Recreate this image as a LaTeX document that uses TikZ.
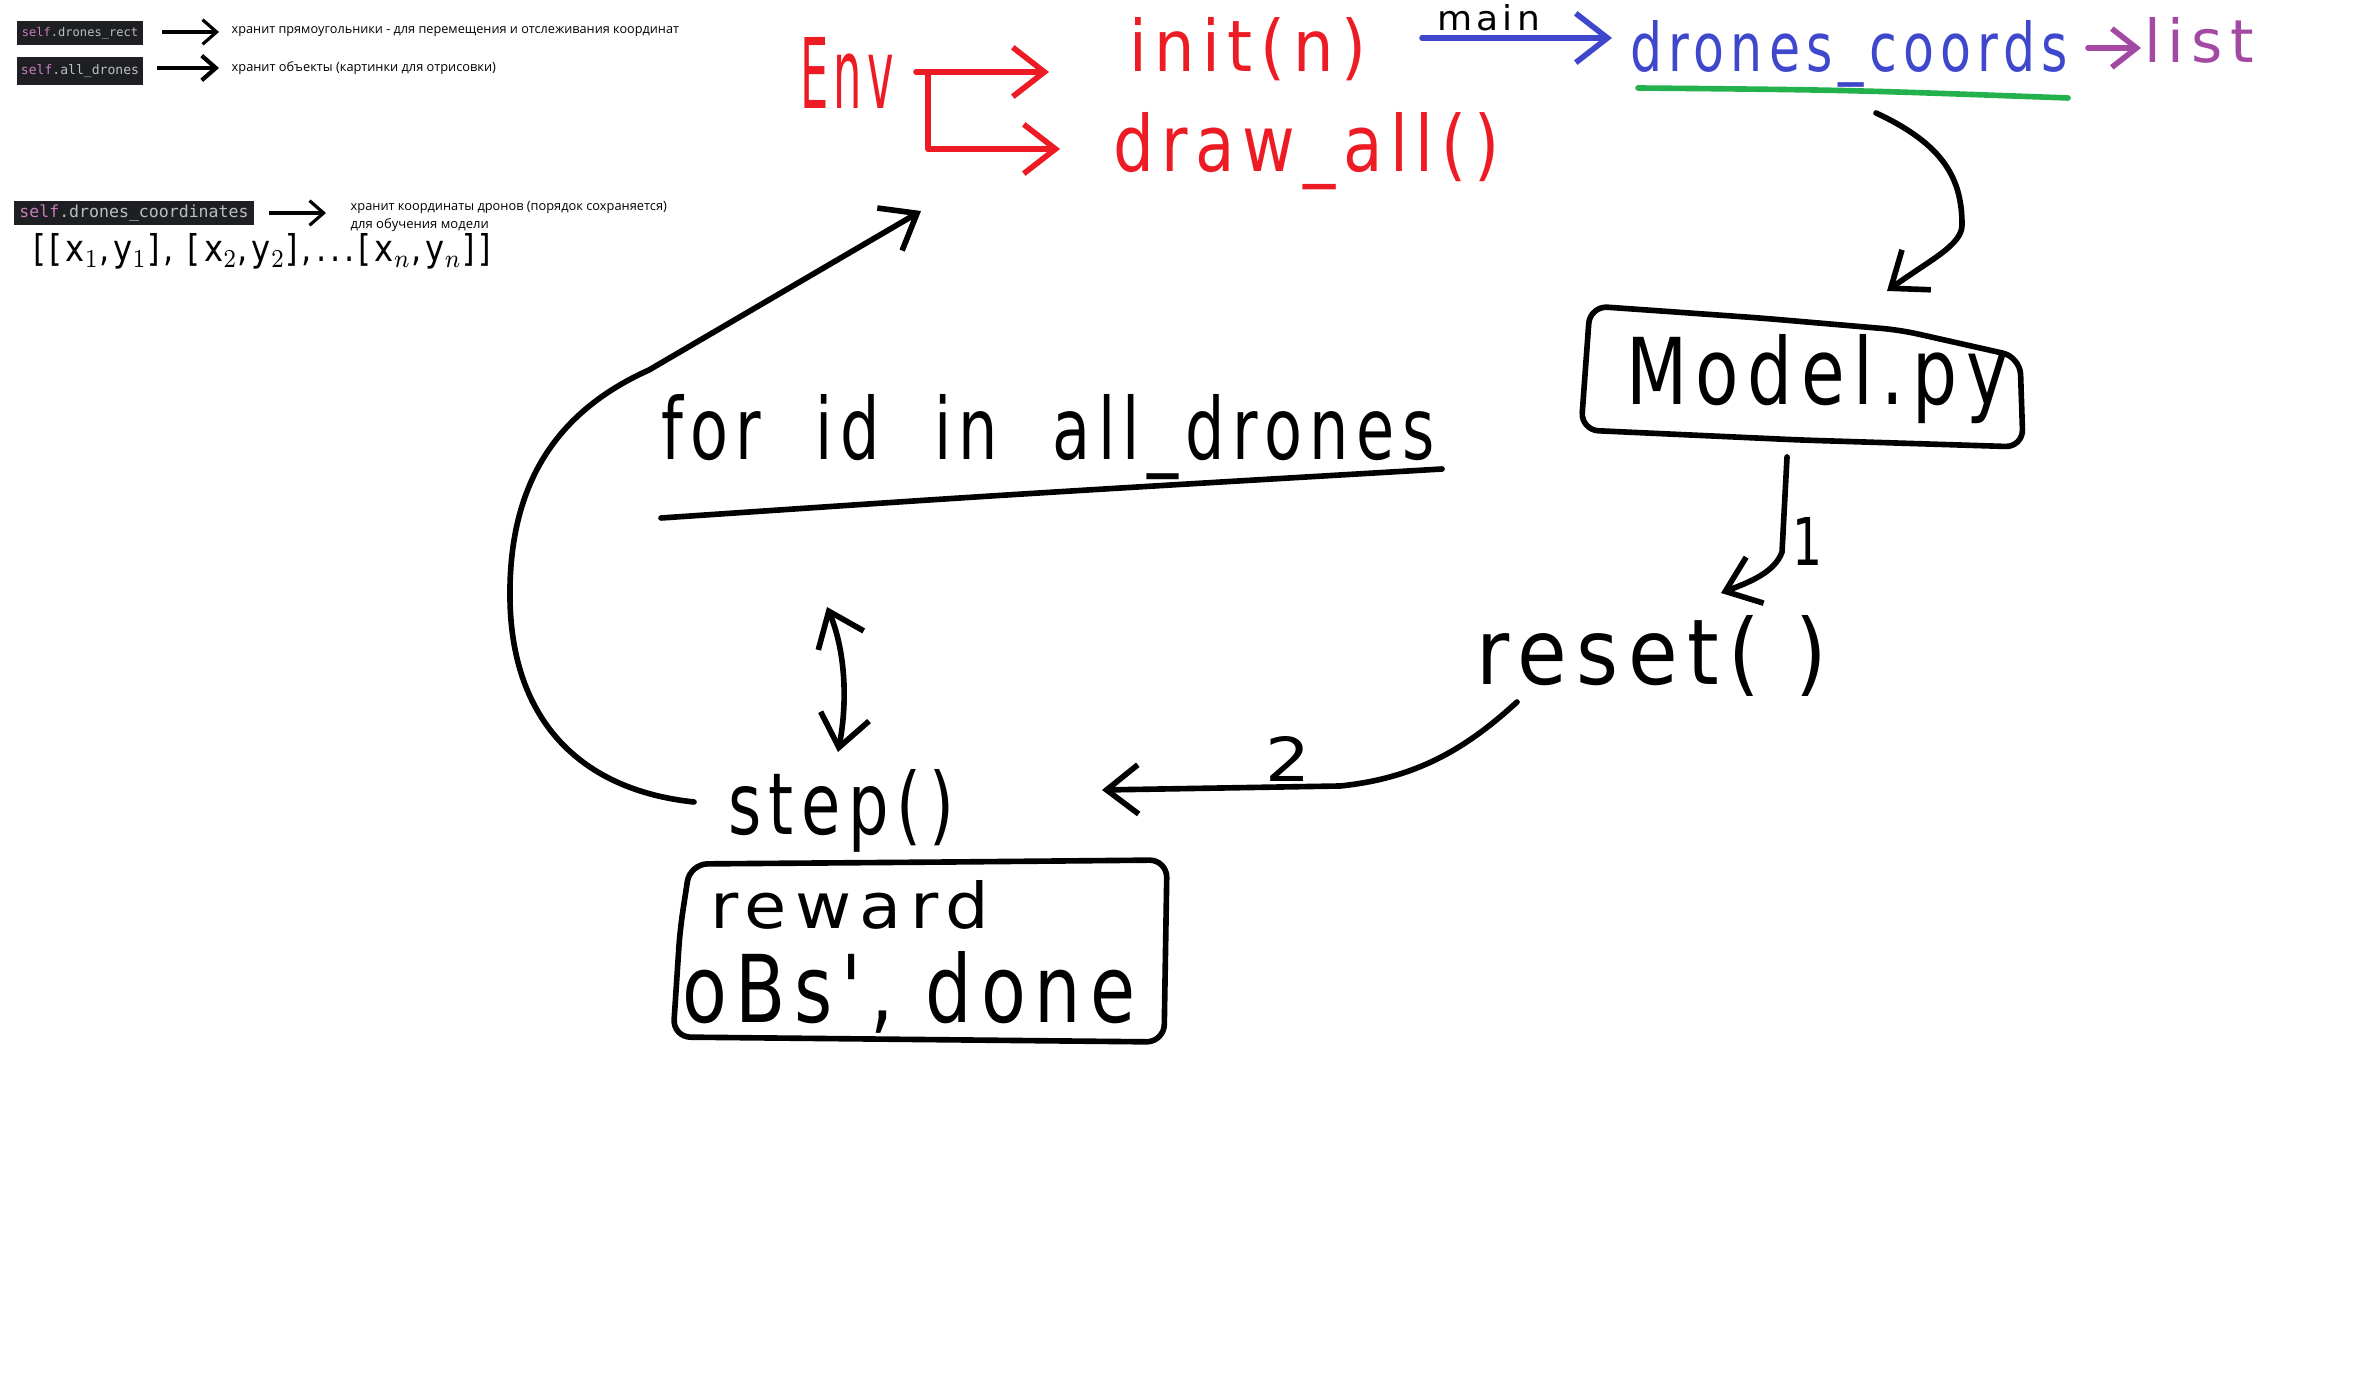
\documentclass[tikz,border=0pt]{standalone}
\usepackage{fontspec}
\setmainfont{Open Sans}
\newfontfamily\handf[LetterSpace=12]{DejaVu Sans}
\newfontfamily\codef{DejaVu Sans Mono}
\usetikzlibrary{arrows.meta}
\definecolor{pred}{HTML}{ED1C24}
\definecolor{pblue}{HTML}{3F48CC}
\definecolor{pgreen}{HTML}{22B14C}
\definecolor{ppurple}{HTML}{A349A4}
\definecolor{codebg}{HTML}{1E1F22}
\definecolor{cself}{HTML}{C77DBB}
\definecolor{ctext}{HTML}{BCBEC4}
\newcommand{\hwt}[3]{\resizebox{#1}{#2}{\handf #3}}
\tikzset{
  hw/.style={anchor=base west, inner sep=0pt, outer sep=0pt},
  pen/.style={line width=1.6pt, line cap=round, line join=round},
  barb/.style={-{Straight Barb[length=9pt,width=14pt,line width=1.6pt]}},
  legarrow/.style={line width=0.9pt, -{Straight Barb[length=4pt,width=7pt]}},
  legtext/.style={anchor=west, inner sep=0pt},
  codebox/.style={fill=codebg, inner sep=0pt}
}
\begin{document}
\begin{tikzpicture}[x=0.01cm,y=-0.01cm]
\useasboundingbox (0,0) rectangle (2367,1383);
\fill[white] (0,0) rectangle (2367,1383);

% ---------- legend ----------
\fill[codebg] (17,21) rectangle (143,45);
\node[codebox] (code1) at (80,33) {\resizebox{1.16cm}{!}{\codef\textcolor{cself}{self}\textcolor{ctext}{.drones\_rect}}};
\coordinate (a1s) at (162,32); \coordinate (a1e) at (219,32);
\draw[legarrow] (a1s) -- (a1e);
\node[legtext] (leg1) at (231,32) {\resizebox{4.47cm}{!}{хранит прямоугольники - для перемещения и отслеживания координат}};

\fill[codebg] (17,57) rectangle (143,85);
\node[codebox] (code2) at (80,71) {\resizebox{1.18cm}{!}{\codef\textcolor{cself}{self}\textcolor{ctext}{.all\_drones}}};
\coordinate (a2s) at (157,68); \coordinate (a2e) at (219,68);
\draw[legarrow, line width=1.2pt] (a2s) -- (a2e);
\node[legtext] (leg2) at (231,68) {\resizebox{2.64cm}{!}{хранит объекты (картинки для отрисовки)}};

\fill[codebg] (14,201) rectangle (254,225);
\node[codebox] (code3) at (134,213) {\resizebox{2.29cm}{!}{\codef\textcolor{cself}{self}\textcolor{ctext}{.drones\_coordinates}}};
\coordinate (a3s) at (269,213); \coordinate (a3e) at (326,213);
\draw[legarrow] (a3s) -- (a3e);
\node[legtext] (leg3a) at (350,207) {\resizebox{3.16cm}{!}{хранит координаты дронов (порядок сохраняется)}};
\node[legtext] (leg3b) at (350,225) {\resizebox{1.38cm}{!}{для обучения модели}};
\node[hw] (clist) at (33,262) {\hwt{4.58cm}{0.28cm}{[[x$_1$,y$_1$], [x$_2$,y$_2$],...[x$_n$,y$_n$]]}};

% ---------- top: Env ----------
\node[hw, text=pred] (env) at (800,109) {\hwt{0.94cm}{0.71cm}{Env}};
\node[hw, text=pred] (init) at (1129,72) {\hwt{2.37cm}{0.54cm}{init(n)}};
\node[hw, text=pred] (drawall) at (1113,172) {\hwt{3.86cm}{0.59cm}{draw\_all()}};
\coordinate (br0) at (916,72);
\coordinate (br1) at (1049,72);
\coordinate (br2) at (928,72);
\coordinate (br3) at (1060,149);
\draw[pen, barb, pred] (br0) -- (br1);
\draw[pen, barb, pred] (br2) |- (br3);

\node[hw] (main) at (1437,31) {\hwt{1.03cm}{0.26cm}{main}};
\coordinate (m0) at (1422,38); \coordinate (m1) at (1612,38);
\draw[pen, barb, pblue] (m0) -- (m1);
\node[hw, text=pblue] (coords) at (1630,72) {\hwt{4.38cm}{0.51cm}{drones\_coords}};
\coordinate (g0) at (1638,88); \coordinate (g1) at (2068,98);
\draw[pen, pgreen] (g0) .. controls (1850,90) .. (g1);
\coordinate (l0) at (2088,48); \coordinate (l1) at (2141,48);
\draw[pen, ppurple, -{Straight Barb[length=7pt,width=11pt,line width=1.6pt]}] (l0) -- (l1);
\node[hw, text=ppurple] (list) at (2144,63) {\hwt{1.10cm}{0.45cm}{list}};

% ---------- Model.py ----------
\node[hw] (model) at (1626,405) {\hwt{3.82cm}{0.70cm}{Model.py}};
\draw[pen, rounded corners=5pt] (1590,306) -- (1760,318) -- (1900,330) -- (2020,357) -- (2023,447) -- (1800,440) -- (1581,430) -- cycle;
\coordinate (c0) at (1876,113);
\coordinate (c1) at (1887,291);
\draw[pen, barb] (c0) .. controls (1945,145) and (1962,180) .. (1962,225) .. controls (1962,245) and (1930,260) .. (c1);

% arrow 1
\coordinate (d0) at (1787,457);
\coordinate (d1) at (1721,593);
\draw[pen, barb] (d0) -- (1782,552) .. controls (1775,572) and (1750,582) .. (d1);
\node[hw] (one) at (1792,566) {\hwt{0.30cm}{0.48cm}{1}};

\node[hw] (reset) at (1476,685) {\hwt{3.51cm}{0.69cm}{reset( )}};

% arrow 2
\coordinate (e0) at (1517,702);
\coordinate (e1) at (1102,790);
\draw[pen, barb] (e0) .. controls (1470,745) and (1420,778) .. (1340,786) -- (e1);
\node[hw] (two) at (1265,782) {\hwt{0.45cm}{0.45cm}{2}};

% ---------- loop ----------
\node[hw] (forid) at (661,460) {\hwt{7.73cm}{0.65cm}{for\ \ id\ \ in\ \ all\_drones}};
\coordinate (u0) at (661,518); \coordinate (u1) at (1442,469);
\draw[pen] (u0) .. controls (1000,495) .. (u1);

\coordinate (da) at (827,607); \coordinate (db) at (838,752);
\draw[pen, {Straight Barb[length=9pt,width=14pt,line width=1.6pt]}-{Straight Barb[length=9pt,width=14pt,line width=1.6pt]}] (da) .. controls (845,650) and (848,700) .. (db);

\node[hw] (step) at (728,835) {\hwt{2.26cm}{0.65cm}{step()}};
\coordinate (s0) at (694,802);
\coordinate (s1) at (921,211);
\draw[pen, barb] (s0) .. controls (580,790) and (512,720) .. (510,600) .. controls (508,480) and (560,410) .. (649,370) -- (s1);

% reward box
\draw[pen, rounded corners=5pt] (690,864) -- (950,862) -- (1167,860) -- (1164,1042) -- (673,1037) -- (680,930) -- cycle;
\node[hw] (reward) at (710,928) {\hwt{2.79cm}{0.48cm}{reward}};
\node[hw] (obs) at (682,1022) {\hwt{4.53cm}{0.71cm}{oBs', done}};
\end{tikzpicture}
\end{document}
